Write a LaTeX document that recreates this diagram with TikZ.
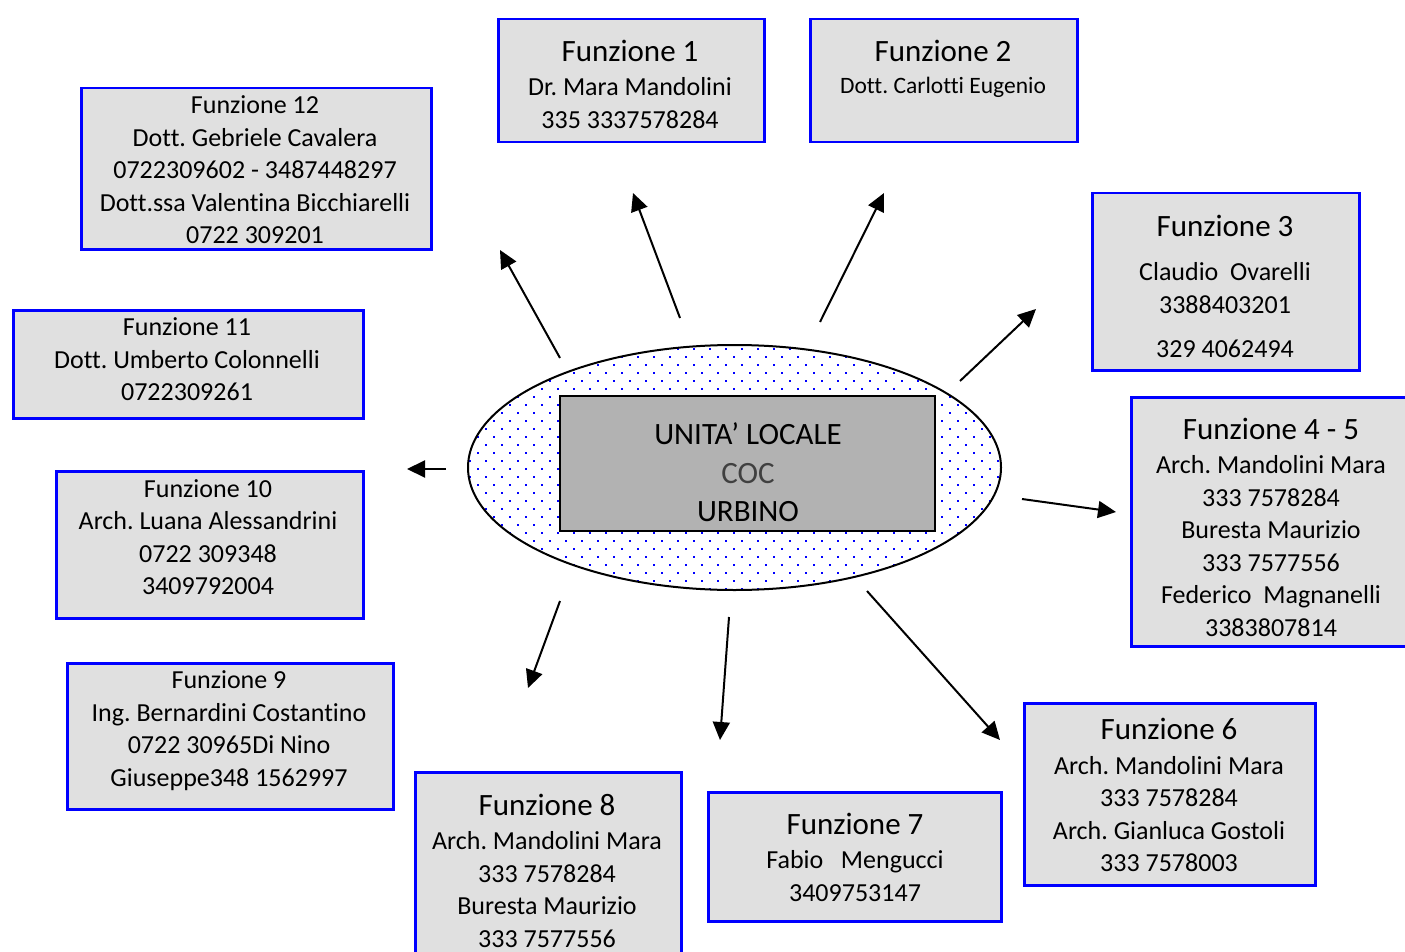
\documentclass[tikz,border=0pt]{standalone}
\usepackage{fontspec}
\setmainfont[Ligatures={NoCommon}]{Carlito}
\usetikzlibrary{arrows.meta,shapes.geometric}

\definecolor{boxfill}{HTML}{E0E0E0}
\definecolor{corefill}{HTML}{B2B2B2}
\definecolor{boxline}{HTML}{0000FF}
\definecolor{dotblue}{HTML}{0000FF}

% larger type for the box headings
\newcommand\funz[1]{{\fontsize{31}{32.5}\selectfont #1}}
\frenchspacing

\begin{document}
\begin{tikzpicture}[x=1pt,y=-1pt,
  frame/.style={draw=boxline, line width=2.5pt, fill=boxfill, inner sep=0pt,
                anchor=north west, minimum width=#1},
  txt/.style={align=center, inner sep=0pt, text depth=0pt,
              font=\fontsize{26}{32.5}\selectfont},
  link/.style={line width=2pt, -{Triangle[length=18pt,width=17pt]}}]

\useasboundingbox (0,0) rectangle (1405,952);
\clip (0,0) rectangle (1405,952);

% ---- central element: dotted ellipse with the COC box ----
\begin{scope}
  \clip (734.5,467.5) ellipse [x radius=266.5, y radius=122.5];
  \foreach \k in {0,...,30}{
    \foreach \m in {0,...,33}{
      \pgfmathsetmacro\dx{470+16*\m+8*mod(\k,2)}
      \pgfmathsetmacro\dy{349+8*\k}
      \fill[dotblue] (\dx-1,\dy-1) rectangle (\dx+1,\dy+1);
    }
  }
\end{scope}
\node[ellipse, draw, line width=2pt, inner sep=0pt,
      minimum width=533, minimum height=245] (coc) at (734.5,467.5) {};
\node[draw, line width=2.5pt, fill=corefill, inner sep=0pt,
      minimum width=375, minimum height=135] (core) at (747.5,463.5) {};
\node[align=center, inner sep=0pt, text depth=0pt,
      font=\fontsize{31}{38.5}\selectfont] (coretext) at (748,472.5)
  {UNITA’ LOCALE\\{\color{black!75}COC}\\URBINO};

% ---- function boxes ----
\node[frame=266, minimum height=123] (b1)  at (497,18)  {};
\node[frame=267, minimum height=123] (b2)  at (809,18)  {};
\node[frame=267, minimum height=177] (b3)  at (1091,192) {};
\node[frame=282, minimum height=249] (b45) at (1130,396) {};
\node[frame=291, minimum height=182] (b6)  at (1023,702) {};
\node[frame=293, minimum height=129] (b7)  at (707,791) {};
\node[frame=266, minimum height=200] (b8)  at (414,771) {};
\node[frame=326, minimum height=146] (b9)  at (66,662)  {};
\node[frame=307, minimum height=147] (b10) at (55,470)  {};
\node[frame=350, minimum height=108] (b11) at (12,309)  {};
\node[frame=350, minimum height=161] (b12) at (80,87)   {};

\node[txt] (t1) at (630,84)
  {\funz{Funzione 1}\\[2pt]Dr. Mara Mandolini\\335 3337578284};
\node[txt] (t2) at (943,67)
  {\funz{Funzione 2}\\[-1pt]{\fontsize{23.5}{28}\selectfont Dott. Carlotti Eugenio}};
\node[txt] (t3) at (1225,286)
  {\funz{Funzione 3}\\[12pt]Claudio~~Ovarelli\\3388403201\\[11.5pt]329 4062494};
\node[txt] (t45) at (1271,527)
  {\funz{Funzione 4 - 5}\\[2pt]Arch. Mandolini Mara\\333 7578284\\Buresta Maurizio\\333 7577556\\Federico~~Magnanelli\\3383807814};
\node[txt] (t6) at (1169,795)
  {\funz{Funzione 6}\\[2pt]Arch. Mandolini Mara\\333 7578284\\Arch. Gianluca Gostoli\\333 7578003};
\node[txt] (t7) at (855,857)
  {\funz{Funzione 7}\\[2pt]Fabio~~~Mengucci\\3409753147};
\node[txt] (t8) at (547,870.5)
  {\funz{Funzione 8}\\[2pt]Arch. Mandolini Mara\\333 7578284\\Buresta Maurizio\\333 7577556};
\node[txt] (t9) at (229,728.5)
  {Funzione 9\\Ing. Bernardini Costantino\\0722 30965Di Nino\\Giuseppe348 1562997};
\node[txt] (t10) at (208,537)
  {Funzione 10\\Arch. Luana Alessandrini\\0722 309348\\3409792004};
\node[txt] (t11) at (187,359.5)
  {Funzione 11\\Dott. Umberto Colonnelli\\0722309261};
\node[txt] (t12) at (255,170)
  {Funzione 12\\Dott. Gebriele Cavalera\\0722309602 - 3487448297\\Dott.ssa Valentina Bicchiarelli\\0722 309201};

% ---- arrows radiating from the centre ----
\coordinate (s12) at (560,358);  \coordinate (e12) at (500,250);
\coordinate (s1)  at (680,318);  \coordinate (e1)  at (633,193);
\coordinate (s2)  at (820,322);  \coordinate (e2)  at (884,193);
\coordinate (s3)  at (960,381);  \coordinate (e3)  at (1036,309);
\coordinate (s45) at (1022,499); \coordinate (e45) at (1116,512);
\coordinate (s6)  at (867,591);  \coordinate (e6)  at (1000,740);
\coordinate (s7)  at (729,617);  \coordinate (e7)  at (720,740);
\coordinate (s8)  at (560,601);  \coordinate (e8)  at (528,688);
\coordinate (s10) at (446,469);  \coordinate (e10) at (407,469);

\foreach \a in {12,1,2,3,45,6,7,8,10}
  \draw[link] (s\a) -- (e\a);

\end{tikzpicture}
\end{document}
